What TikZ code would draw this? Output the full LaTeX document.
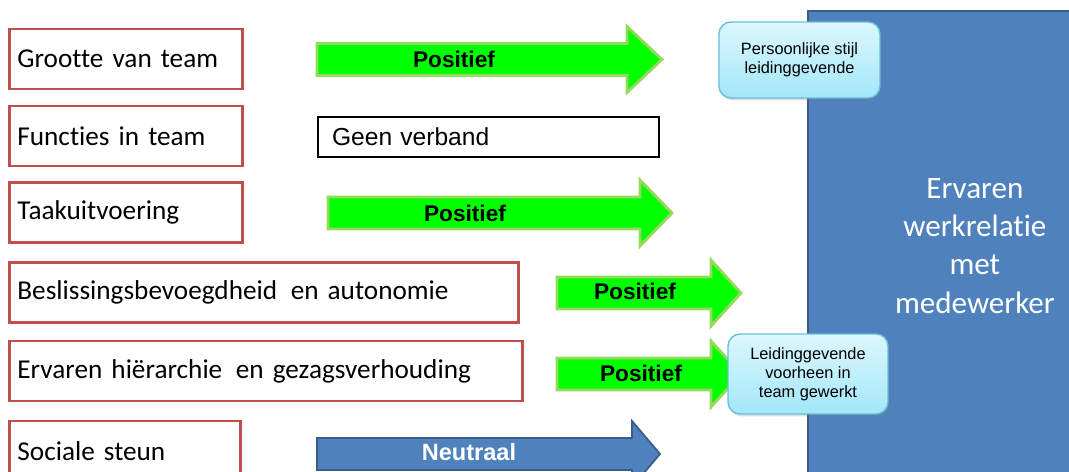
\documentclass[tikz,border=0pt]{standalone}
\usepackage{fontspec}
\setmainfont{Carlito}[Ligatures=NoCommon]
\newfontfamily\arialfont{Liberation Sans}
\usetikzlibrary{shadows}

\definecolor{factorred}{HTML}{C0504D}
\definecolor{posgreen}{HTML}{00FF00}
\definecolor{posedge}{HTML}{96D95E}
\definecolor{neutralblue}{HTML}{4F81BD}
\definecolor{neutraledge}{HTML}{385D8A}
\definecolor{callouttop}{HTML}{DDF7FD}
\definecolor{calloutbottom}{HTML}{A2E7F9}
\definecolor{calloutedge}{HTML}{68BEDA}

% block arrow: style, tail x, head x, tip x, centre y (pixel units)
\newcommand{\blockarrow}[5]{%
  \draw[#1] (#2,#5-16) -- (#3,#5-16) -- (#3,#5-33) -- (#4,#5)
    -- (#3,#5+33) -- (#3,#5+16) -- (#2,#5+16) -- cycle;}

\tikzset{
  factor/.style={draw=factorred, line width=1.6pt, fill=white, minimum height=12mm,
    inner xsep=1.6mm, text width=#1, align=left, anchor=west,
    font=\fontsize{15.5}{18}\selectfont},
  posarrow/.style={fill=posgreen, draw=posedge, line width=1.6pt, line join=miter},
  neutralarrow/.style={fill=neutralblue, draw=neutraledge, line width=1pt},
  arrowlabel/.style={font=\arialfont\bfseries\fontsize{12.9}{14}\selectfont, inner sep=0pt},
  callout/.style={draw=calloutedge, line width=0.8pt, rounded corners=2.4mm,
    top color=callouttop, bottom color=calloutbottom,
    drop shadow={opacity=0.25, shadow xshift=0.3mm, shadow yshift=-0.5mm},
    align=center, font=\arialfont\fontsize{9.3}{10.8}\selectfont},
}

\begin{document}
\begin{tikzpicture}[x=0.02cm, y=-0.02cm]
\useasboundingbox (0,0) rectangle (1069,472);
\clip (0,0) rectangle (1069,472);

% outcome block
\node[fill=neutralblue, draw=neutraledge, line width=1pt, anchor=north west,
  minimum width=66.8mm, minimum height=94mm, align=center, text=white,
  font=\fontsize{17.7}{21.8}\selectfont] (relatie) at (807,10)
  {Ervaren\\werkrelatie\\met\\medewerker};

% factors
\node[factor=43.4mm] (grootte) at (8,59) {Grootte van team};
\node[factor=43.4mm] (functies) at (8,136) {Functies in team};
\node[factor=43.4mm] (taak) at (8,212.5) {Taakuitvoering};
\node[factor=98.6mm] (beslis) at (8,292.5) {Beslissingsbevoegdheid\, en autonomie};
\node[factor=99.4mm] (hierarchie) at (8,371) {Ervaren hiërarchie\, en gezagsverhouding};
\node[factor=43mm] (steun) at (8,451) {Sociale steun};

% effects
\blockarrow{posarrow}{317}{627}{662}{59.5}
\node[arrowlabel] (pos1) at (454,59) {Positief};

\node[draw=black, line width=0.8pt, minimum width=68.2mm, minimum height=8mm,
  inner xsep=2.8mm, text width=62.6mm, align=left,
  font=\arialfont\fontsize{14}{16}\selectfont] (geen) at (488.5,137) {Geen verband};

\blockarrow{posarrow}{328}{640}{672}{213}
\node[arrowlabel] (pos3) at (465,213) {Positief};

\blockarrow{posarrow}{557}{711}{741}{293}
\node[arrowlabel] (pos4) at (635,291) {Positief};

\blockarrow{posarrow}{557}{711}{741}{374}
\node[arrowlabel] (pos5) at (641,373) {Positief};

\blockarrow{neutralarrow}{317}{632}{660}{454}
\node[arrowlabel, text=white, font=\arialfont\bfseries\fontsize{13.4}{15}\selectfont] (neutraal) at (469,452) {Neutraal};

% moderators
\node[callout, minimum width=32.2mm, minimum height=15.2mm] (stijl) at (799.5,60)
  {Persoonlijke stijl\\leidinggevende};
\node[callout, minimum width=32mm, minimum height=16mm] (voorheen) at (808,374)
  {Leidinggevende\\voorheen in\\team gewerkt};
\end{tikzpicture}
\end{document}
